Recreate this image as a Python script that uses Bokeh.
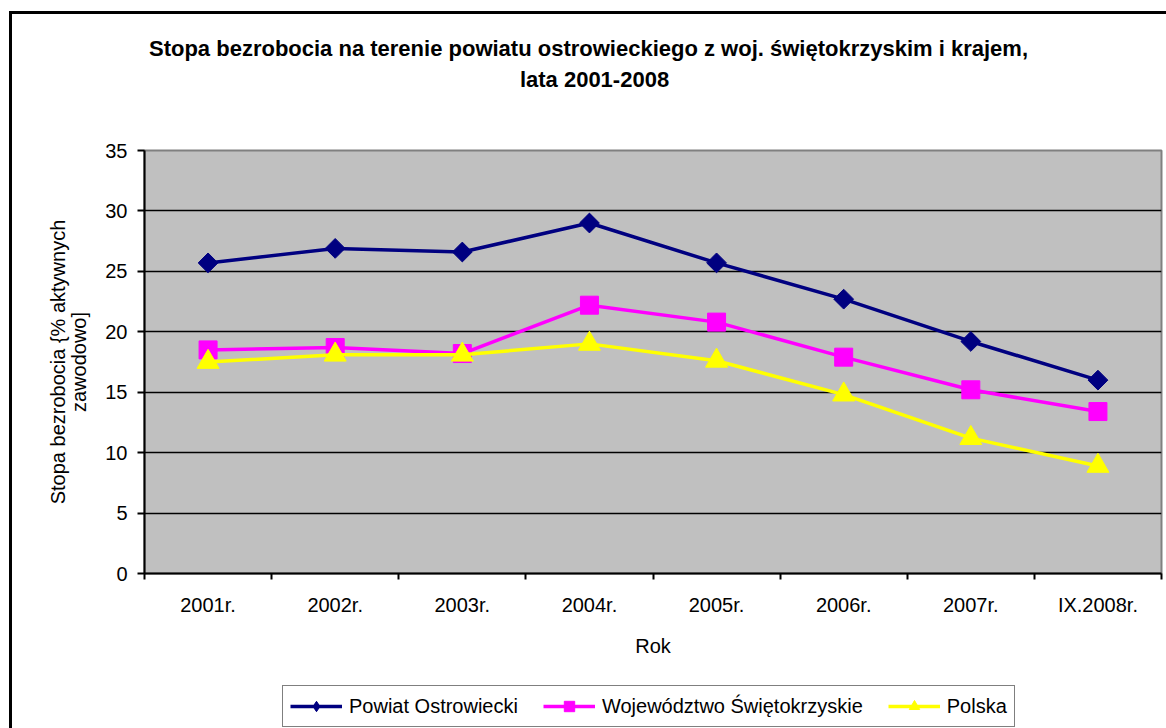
import math
from bokeh.plotting import figure
from bokeh.layouts import column
from bokeh.models import FixedTicker, Label, Legend, LegendItem, Range1d
from bokeh.embed import file_html
from bokeh.resources import INLINE

# ---------------- data ----------------
categories = ["2001r.", "2002r.", "2003r.", "2004r.", "2005r.", "2006r.", "2007r.", "IX.2008r."]
powiat = [25.7, 26.9, 26.6, 29.0, 25.7, 22.7, 19.2, 16.0]
wojewodztwo = [18.5, 18.7, 18.2, 22.2, 20.8, 17.9, 15.2, 13.4]
polska = [17.5, 18.1, 18.1, 19.0, 17.6, 14.8, 11.2, 8.9]
y_ticks = [0, 5, 10, 15, 20, 25, 30, 35]

series_names = ["Powiat Ostrowiecki", "Województwo Świętokrzyskie", "Polska"]
title_lines = ["Stopa bezrobocia na terenie powiatu ostrowieckiego z woj. świętokrzyskim i krajem,",
               "lata 2001-2008"]
y_label = "Stopa bezrobocia {% aktywnych\nzawodowo]"
x_label = "Rok"

# ---------------- styling ----------------
FONT = "Liberation Sans"
colors = ["#000080", "#FF00FF", "#FFFF00"]
markers = ["square", "square", "triangle"]
legend_markers = ["diamond", "square", "triangle"]
angles = [math.pi / 4, 0, 0]
sizes = [14, 18, 22]
W = 1154

n = len(categories)
xs = [i + 0.5 for i in range(n)]
y_max = 35
series = [powiat, wojewodztwo, polska]


def bare(height):
    f = figure(width=W, height=height, output_backend="svg", toolbar_location=None,
               x_axis_location=None, y_axis_location=None, min_border=0,
               x_range=Range1d(0, 1), y_range=Range1d(0, 1))
    f.grid.visible = False
    f.outline_line_color = None
    f.background_fill_color = "white"
    f.border_fill_color = "white"
    return f


# ---------------- title block (frame aligned with the chart frame) ----------------
pt = bare(120)
for line, cx, cy in zip(title_lines, [444, 450], [86, 55]):
    pt.add_layout(Label(x=cx, y=cy, x_units="screen", y_units="screen", text=line,
                        text_align="center", text_baseline="middle", text_font=FONT,
                        text_font_size="22px", text_font_style="bold", text_color="black"))

# ---------------- main chart ----------------
p = figure(width=W, height=531, x_range=Range1d(0, n), y_range=Range1d(0, y_max),
           output_backend="svg", toolbar_location=None,
           min_border_left=132, min_border_right=5, min_border_top=16, min_border_bottom=92)
p.background_fill_color = "#C0C0C0"
p.border_fill_color = "white"
p.outline_line_color = "#808080"
p.outline_line_width = 2

p.xaxis.ticker = FixedTicker(ticks=xs, minor_ticks=list(range(n + 1)))
p.xaxis.major_label_overrides = {x: c for x, c in zip(xs, categories)}
p.xaxis.major_tick_out = 0
p.xaxis.major_tick_in = 0
p.xaxis.major_tick_line_color = None
p.xaxis.minor_tick_out = 6
p.xaxis.minor_tick_in = 0
p.xaxis.minor_tick_line_color = "black"
p.xaxis.minor_tick_line_width = 2
p.xaxis.major_label_standoff = 14
p.xaxis.axis_label = x_label
p.xaxis.axis_label_standoff = 16

p.yaxis.ticker = FixedTicker(ticks=y_ticks)
p.yaxis.major_tick_out = 7
p.yaxis.major_tick_in = 0
p.yaxis.minor_tick_line_color = None
p.yaxis.major_label_standoff = 10
p.yaxis.major_tick_line_width = 2
p.yaxis.axis_label = y_label
p.yaxis.axis_label_standoff = 12
p.yaxis.axis_label_text_line_height = 0.95
p.yaxis.axis_label_text_align = "center"

for ax in (p.xaxis, p.yaxis):
    ax.axis_line_color = "black"
    ax.axis_line_width = 2
    ax.major_label_text_font = FONT
    ax.major_label_text_font_size = "20px"
    ax.major_label_text_color = "black"
    ax.axis_label_text_font = FONT
    ax.axis_label_text_font_size = "20px"
    ax.axis_label_text_font_style = "normal"
    ax.axis_label_text_color = "black"

p.xgrid.visible = False
p.ygrid.ticker = FixedTicker(ticks=y_ticks)
p.ygrid.grid_line_color = "black"
p.ygrid.grid_line_width = 1.5

for vals, c, m, a, s in zip(series, colors, markers, angles, sizes):
    p.line(xs, vals, line_color=c, line_width=3.5)
    p.scatter(xs, vals, marker=m, size=s, angle=a, fill_color=c, line_color=c, line_width=1)

# ---------------- legend block (frame aligned with the chart frame) ----------------
pl = bare(63)
pl.x_range = Range1d(100, 101)   # series drawn here only to feed the legend glyphs
items = []
for name, vals, c, m in zip(series_names, series, colors, legend_markers):
    lr = pl.line(xs, vals, line_color=c, line_width=3.5)
    sr = pl.scatter(xs, vals, marker=m, size=12, fill_color=c, line_color=c)
    items.append(LegendItem(label=name, renderers=[lr, sr]))
legend = Legend(items=items, orientation="horizontal", location=(138, 1),
                padding=7, spacing=25, glyph_width=52, glyph_height=26, label_standoff=7,
                label_text_font=FONT, label_text_font_size="20px", label_text_color="black",
                border_line_color="black", border_line_width=1.5,
                background_fill_color="white", background_fill_alpha=1.0, margin=0)
pl.add_layout(legend)

layout = column(pt, p, pl, spacing=0)
layout.margin = (11, 0, 0, 9)
layout.styles = {"border-left": "3px solid black", "border-top": "3px solid black"}

open("out.html", "w").write(file_html(layout, INLINE))
